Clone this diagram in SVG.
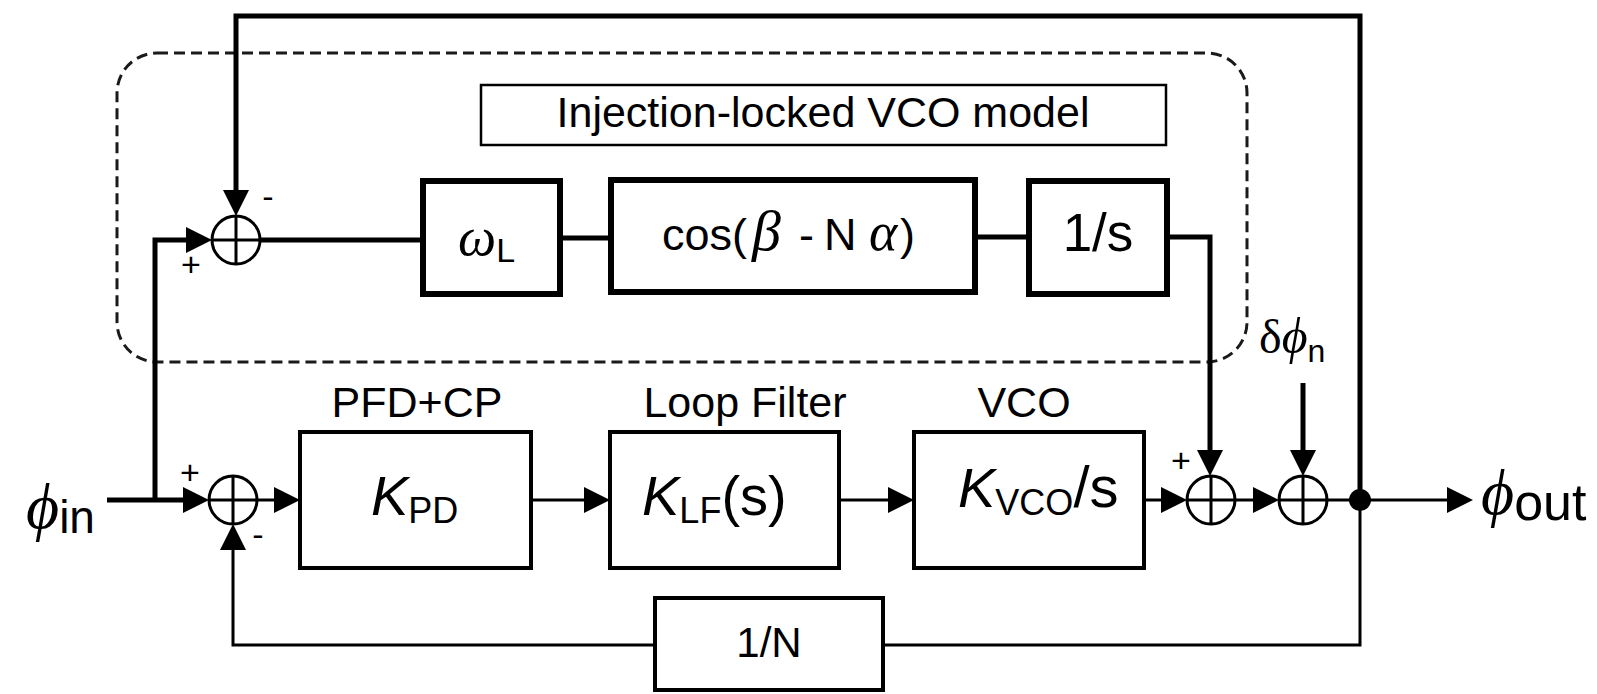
<svg xmlns="http://www.w3.org/2000/svg" width="1597" height="694" viewBox="0 0 1597 694">
<style>
.sans{font-family:"Liberation Sans",Arial,sans-serif;fill:#000}
.ser{font-family:"Liberation Serif","Times New Roman",serif;fill:#000}
.phi{font-family:"Liberation Serif","Times New Roman",serif;font-style:italic;fill:#000}
.it{font-style:italic}
.box{fill:#fff;stroke:#000;stroke-linejoin:miter}
.ln{fill:none;stroke:#000;stroke-linejoin:miter}
.sum{fill:#fff;stroke:#000;stroke-width:3}
.x{stroke:#000;stroke-width:3}
</style>
<defs>
<marker id="ah" markerUnits="userSpaceOnUse" markerWidth="26" markerHeight="26" viewBox="0 0 26 26" refX="2" refY="13" orient="auto">
<path d="M0,0 L26,13 L0,26 z" fill="#000"/>
</marker>
</defs>
<rect x="117" y="53" width="1130" height="309" rx="40" ry="40" fill="none" stroke="#1a1a1a" stroke-width="3" stroke-dasharray="11 6"/>
<g id="connectors">
<path class="ln" stroke-width="5" d="M1360,500 V16 H236 V192" marker-end="url(#ah)"/>
<path class="ln" stroke-width="5" d="M107,500 H185" marker-end="url(#ah)"/>
<path class="ln" stroke-width="5" d="M155,500 V240 H188" marker-end="url(#ah)"/>
<path class="ln" stroke-width="5" d="M260,240 H423"/>
<path class="ln" stroke-width="5" d="M560,238 H611"/>
<path class="ln" stroke-width="5" d="M975,237 H1029"/>
<path class="ln" stroke-width="5" d="M1167,237 H1210 V452" marker-end="url(#ah)"/>
<path class="ln" stroke-width="3" d="M257,500 H276" marker-end="url(#ah)"/>
<path class="ln" stroke-width="3" d="M531,500 H586" marker-end="url(#ah)"/>
<path class="ln" stroke-width="3" d="M839,500 H890" marker-end="url(#ah)"/>
<path class="ln" stroke-width="3" d="M1144,500 H1163" marker-end="url(#ah)"/>
<path class="ln" stroke-width="3" d="M1235,500 H1255" marker-end="url(#ah)"/>
<path class="ln" stroke-width="3" d="M1327,500 H1360"/>
<path class="ln" stroke-width="3" d="M1360,500 H1449" marker-end="url(#ah)"/>
<path class="ln" stroke-width="5" d="M1303,383 V452" marker-end="url(#ah)"/>
<path class="ln" stroke-width="3" d="M1360,500 V645 H233 V548" marker-end="url(#ah)"/>
<circle cx="1360" cy="500" r="11" fill="#000"/>
</g>
<g id="title">
<rect class="box" x="481" y="85" width="685" height="60" stroke-width="2.5"/>
<text class="sans" x="823" y="127" font-size="43" text-anchor="middle">Injection-locked VCO model</text>
</g>
<g id="sum1">
<circle class="sum" cx="236" cy="240" r="24"/>
<path class="x" d="M212,240 H260 M236,216 V264"/>
<text class="sans" x="191" y="276" font-size="34" text-anchor="middle">+</text>
<text class="sans" x="268" y="208" font-size="34" text-anchor="middle">-</text>
</g>
<g id="omegaL">
<rect class="box" x="423" y="181" width="137" height="113" stroke-width="6"/>
<text x="458" y="255"><tspan class="ser it" font-size="54">ω</tspan><tspan class="sans" font-size="34" dy="7">L</tspan></text>
</g>
<g id="cos">
<rect class="box" x="611" y="180" width="364" height="112" stroke-width="6"/>
<text class="sans" x="662" y="250" font-size="45">cos(</text>
<text class="ser it" x="752" y="250" font-size="58">β</text>
<text class="sans" x="799" y="250" font-size="45">-</text>
<text class="sans" x="824" y="250" font-size="45">N</text>
<text class="ser it" x="869" y="250" font-size="54">α</text>
<text class="sans" x="900" y="250" font-size="45">)</text>
</g>
<g id="integ">
<rect class="box" x="1029" y="181" width="138" height="113" stroke-width="6"/>
<text class="sans" x="1098" y="251" font-size="53" text-anchor="middle">1/s</text>
</g>
<g id="sum2">
<circle class="sum" cx="233" cy="500" r="24"/>
<path class="x" d="M209,500 H257 M233,476 V524"/>
<text class="sans" x="190" y="484" font-size="34" text-anchor="middle">+</text>
<text class="sans" x="258" y="546" font-size="34" text-anchor="middle">-</text>
</g>
<g id="pfd">
<text class="sans" x="417" y="417" font-size="43" text-anchor="middle">PFD+CP</text>
<rect class="box" x="300" y="432" width="231" height="136" stroke-width="4"/>
<text x="371" y="515"><tspan class="sans it" font-size="56">K</tspan><tspan class="sans" font-size="36" dy="8">PD</tspan></text>
</g>
<g id="lf">
<text class="sans" x="745" y="417" font-size="43" text-anchor="middle">Loop Filter</text>
<rect class="box" x="610" y="432" width="229" height="136" stroke-width="4"/>
<text x="642" y="515"><tspan class="sans it" font-size="56">K</tspan><tspan class="sans" font-size="36" dy="8">LF</tspan><tspan class="sans" font-size="56" dy="-8">(s)</tspan></text>
</g>
<g id="vco">
<text class="sans" x="1024" y="417" font-size="43" text-anchor="middle">VCO</text>
<rect class="box" x="914" y="432" width="230" height="136" stroke-width="4"/>
<text x="958" y="507"><tspan class="sans it" font-size="56">K</tspan><tspan class="sans" font-size="36" dy="8">VCO</tspan><tspan class="sans" font-size="58" dy="-8">/s</tspan></text>
</g>
<g id="sum3">
<circle class="sum" cx="1211" cy="500" r="24"/>
<path class="x" d="M1187,500 H1235 M1211,476 V524"/>
<text class="sans" x="1181" y="472" font-size="34" text-anchor="middle">+</text>
</g>
<g id="sum4">
<circle class="sum" cx="1303" cy="500" r="24"/>
<path class="x" d="M1279,500 H1327 M1303,476 V524"/>
</g>
<g id="divider">
<rect class="box" x="655" y="598" width="228" height="92" stroke-width="4"/>
<text class="sans" x="769" y="657" font-size="42" text-anchor="middle">1/N</text>
</g>
<g id="labels">
<text x="26" y="528"><tspan class="phi" font-size="64">ϕ</tspan><tspan class="sans" font-size="46" dy="5">in</tspan></text>
<text x="1481" y="514"><tspan class="phi" font-size="64">ϕ</tspan><tspan class="sans" font-size="52" dy="6">out</tspan></text>
<text x="1259" y="353"><tspan class="ser" font-size="48">δ</tspan><tspan class="phi" font-size="50">ϕ</tspan><tspan class="sans" font-size="32" dy="9">n</tspan></text>
</g>
</svg>
